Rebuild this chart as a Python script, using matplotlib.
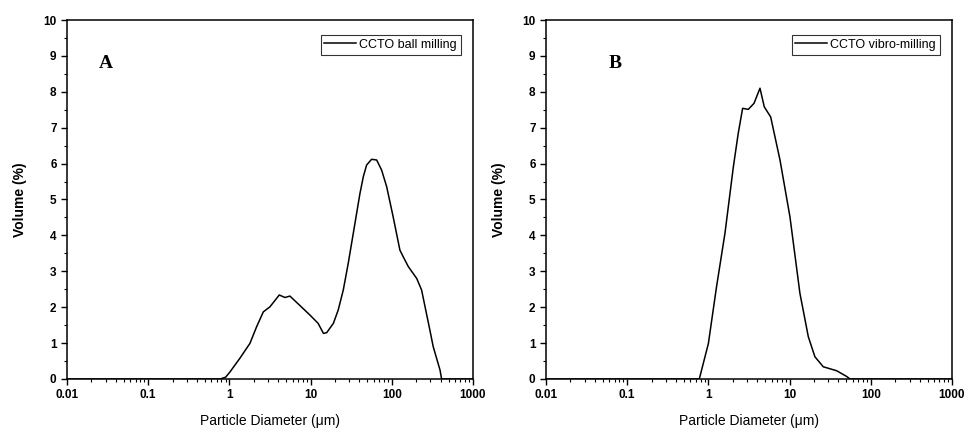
import numpy as np
import matplotlib.pyplot as plt

plt.rcParams['font.family'] = ['Liberation Sans', 'DejaVu Sans']

# Panel A: CCTO ball milling (diameter in um, volume %)
d_ball = [0.01, 0.77, 0.9, 1.02, 1.35, 1.79, 2.17, 2.62, 3.16, 4.12, 4.84, 5.57, 9.84,
          12.4, 14.4, 15.8, 19.1, 21.9, 25.3, 29.1, 33.6, 40.6, 44.7, 49.0, 56.5, 65.2,
          75.0, 86.5, 104, 126, 138, 160, 203, 233, 295, 324, 393, 411, 1000]
v_ball = [0, 0, 0.05, 0.2, 0.58, 0.99, 1.46, 1.87, 2.01, 2.34, 2.27, 2.31, 1.78,
          1.55, 1.27, 1.29, 1.55, 1.92, 2.48, 3.22, 4.06, 5.17, 5.64, 5.96, 6.12, 6.10,
          5.82, 5.36, 4.52, 3.59, 3.41, 3.13, 2.80, 2.48, 1.36, 0.9, 0.25, 0, 0]

# Panel B: CCTO vibro-milling
d_vibro = [0.01, 0.773, 1.0, 1.26, 1.6, 2.03, 2.33, 2.64, 3.1, 3.65, 4.32, 4.88, 5.85,
           7.62, 10.1, 13.4, 17.0, 20.5, 26.0, 38.0, 50.5, 55.5, 1000]
v_vibro = [0, 0, 0.99, 2.57, 4.06, 5.91, 6.84, 7.54, 7.51, 7.68, 8.1, 7.58, 7.3,
           6.1, 4.52, 2.39, 1.18, 0.62, 0.34, 0.23, 0.07, 0, 0]

xticks = [0.01, 0.1, 1, 10, 100, 1000]
xticklabels = ['0.01', '0.1', '1', '10', '100', '1000']

fig = plt.figure(figsize=(9.65, 4.32), dpi=100)
ax1 = fig.add_axes([0.0694, 0.1227, 0.4207, 0.831])
ax2 = fig.add_axes([0.5658, 0.1227, 0.4207, 0.831])

panels = [(ax1, d_ball, v_ball, 'CCTO ball milling', 'A', 0.095),
          (ax2, d_vibro, v_vibro, 'CCTO vibro-milling', 'B', 0.17)]

for ax, d, v, name, letter, lx in panels:
    ax.plot(d, v, color='black', lw=1.1, label=name)
    ax.set_xscale('log')
    ax.set_xlim(0.01, 1000)
    ax.set_ylim(0, 10)
    ax.set_xticks(xticks)
    ax.set_xticklabels(xticklabels)
    ax.set_yticks(range(11))
    ax.set_yticks(np.arange(0.5, 10, 1), minor=True)
    ax.tick_params(which='major', direction='out', length=4, width=1, labelsize=8.5)
    ax.tick_params(which='minor', direction='out', length=2, width=0.8)
    for lab in ax.get_xticklabels() + ax.get_yticklabels():
        lab.set_fontweight('bold')
    for s in ax.spines.values():
        s.set_linewidth(1.1)
    ax.set_xlabel('Particle Diameter (\u03bcm)', fontsize=10, labelpad=9)
    ax.set_ylabel('Volume (%)', fontsize=10, fontweight='bold', labelpad=12)
    leg = ax.legend(loc='upper right', bbox_to_anchor=(0.97, 0.958), borderaxespad=0,
                    fancybox=False, edgecolor='black', fontsize=9, handlelength=2.5,
                    borderpad=0.3, handletextpad=0.3)
    leg.get_frame().set_linewidth(0.8)
    ax.text(lx, 0.88, letter, transform=ax.transAxes, fontsize=14, fontweight='bold',
            family='Liberation Serif', ha='center', va='center')

fig.savefig('out.png', dpi=100)
